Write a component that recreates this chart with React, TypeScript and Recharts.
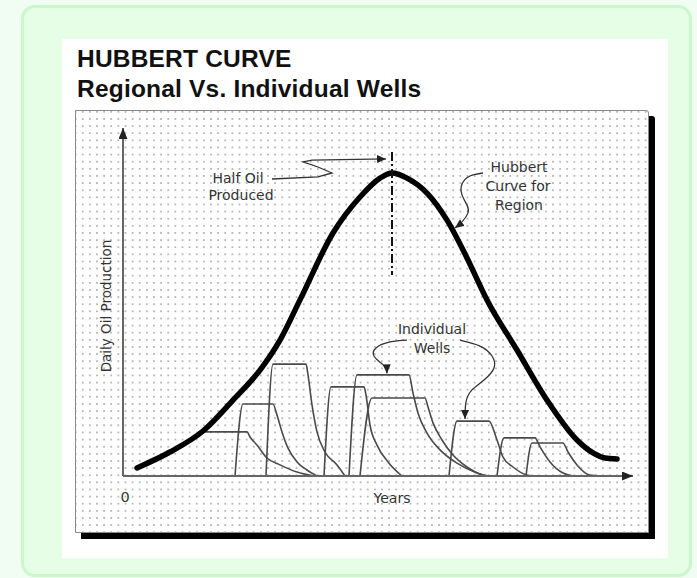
import React from 'react';
import { LineChart, Line, XAxis, YAxis, ReferenceLine } from 'recharts';

type Pt = { x: number; y: number };
const pts = (a: number[][]): Pt[] => a.map(([x, y]) => ({ x, y }));

// Regional Hubbert curve (years, daily production – arbitrary units)
const hubbertCurve = pts([
  [2.8, 2.7], [9.4, 8], [16, 15], [22, 25.3], [27.4, 35.3], [31.4, 45.3], [35.4, 58.7],
  [42, 81], [47.4, 93], [51.4, 99.3], [53.8, 101], [56.8, 99.3], [60.8, 94.3], [64.8, 85.3],
  [68.8, 72.7], [72.8, 58.7], [78.8, 42], [84.8, 25.3], [90.8, 12], [94, 7.7], [96.4, 6], [98.8, 5.7],
]);

// Individual wells
const well1 = pts([[15.2, 14.7], [24.8, 14.7], [25.4, 13], [26.8, 10.3], [28.8, 6], [31.4, 3.7], [34.8, 1.3], [38, 0]]);
const well2 = pts([[22.4, 0], [24, 24], [30, 24], [30.8, 20.3], [31.8, 14.7], [33, 9.3], [34.8, 4.7], [36.8, 2], [38.8, 0]]);
const well3 = pts([[28.6, 0], [30, 37.3], [36.6, 37.3], [37, 33.7], [37.8, 23.7], [38.8, 14.7], [40.4, 8], [42.8, 3.7], [44.4, 0]]);
const well4 = pts([[40.2, 0], [41.6, 29.7], [48.2, 29.7], [48.6, 27], [49.4, 17], [50.8, 10.3], [53, 4.7], [55.8, 0]]);
const well5 = pts([[45.2, 0], [46.8, 33.7], [57.2, 33.7], [58, 27.7], [59, 21], [60.8, 14.3], [63.4, 8.7], [66.8, 4.3], [70.8, 1], [72.8, 0]]);
const well6 = pts([[47.4, 0], [49.8, 26], [60.4, 26], [61, 23], [62, 17.7], [63.8, 12], [66, 7], [68.8, 3], [72, 0.3], [73.4, 0]]);
const well7 = pts([[65.2, 0], [66.8, 18.3], [73.2, 18.3], [74.8, 12], [76, 6.3], [78, 3], [80.8, 0.3], [81.8, 0]]);
const well8 = pts([[74.8, 0], [76.2, 12.7], [82.4, 12.7], [83.4, 9.7], [85.4, 4.7], [88, 1], [90, 0]]);
const well9 = pts([[80.6, 0], [81.8, 11], [88, 11], [89, 8], [90.8, 3.7], [93.4, 0.3], [95.8, 0]]);
const wells = [well1, well2, well3, well4, well5, well6, well7, well8, well9];

// Annotation leaders
const halfOilLeader = pts([[29.8, 99], [39, 99.7], [41.8, 101], [39, 103], [36, 104.7], [37.8, 105.3], [52.6, 105.7]]);
const hubbertLeader = pts([[72, 101], [69.4, 100], [67.8, 97.3], [67.8, 93.7], [68.8, 90.3], [69, 87.7], [67.8, 84.7], [66.4, 82.7]]);
const wellsLeaderLeft = pts([[56.8, 45.3], [53.4, 44.7], [50.6, 42.7], [50.2, 40], [51.6, 37.7], [52.6, 36], [52.8, 34.2]]);
const wellsLeaderRight = pts([[67.4, 45.3], [71.4, 43.3], [73.8, 40], [74.2, 36], [72.2, 32], [69.8, 28.7], [68.6, 24.7], [68.4, 19]]);
const peakMarker = pts([[53.8, 108], [53.8, 67]]);

const xDomain: [number, number] = [0, 102];
const yDomain: [number, number] = [0, 116];
const xTicks = [0];

const FONT = '"DejaVu Sans", Verdana, sans-serif';

const Note = ({ x, y, children, size = 14, rotate = 0 }: { x: number; y: number; children: React.ReactNode; size?: number; rotate?: number }) => (
  <div
    style={{
      position: 'absolute', left: x, top: y,
      transform: `translate(-50%,-50%) rotate(${rotate}deg)`,
      fontFamily: FONT, fontSize: size, lineHeight: 1, color: '#333', whiteSpace: 'nowrap',
    }}
  >
    {children}
  </div>
);

export default function App() {
  return (
    <div style={{ position: 'absolute', left: 0, top: 0, width: 697, height: 578, background: '#f1fcf3', overflow: 'hidden' }}>
      <svg width={0} height={0} style={{ position: 'absolute' }}>
        <defs>
          <marker id="axisArrow" viewBox="0 0 11 9" refX={11} refY={4.5} markerWidth={11} markerHeight={9} markerUnits="userSpaceOnUse" orient="auto-start-reverse">
            <path d="M0,0 L11,4.5 L0,9 Z" fill="#222" />
          </marker>
          <marker id="leadArrow" viewBox="0 0 9 8" refX={9} refY={4} markerWidth={9} markerHeight={8} markerUnits="userSpaceOnUse" orient="auto">
            <path d="M0,0 L9,4 L0,8 Z" fill="#222" />
          </marker>
        </defs>
      </svg>
      <div style={{ position: 'absolute', left: 21, top: 5, width: 665, height: 566, border: '3px solid #c9f8c9', borderRadius: 14, background: '#e6fde6' }} />
      <div style={{ position: 'absolute', left: 62, top: 39, width: 606, height: 519, background: '#ffffff' }} />
      <div style={{ position: 'absolute', left: 77, top: 44, fontFamily: '"Liberation Sans", Arial, sans-serif', fontWeight: 'bold', fontSize: 24.5, letterSpacing: 0.2, lineHeight: '30px', color: '#111', whiteSpace: 'nowrap' }}>
        <div>HUBBERT CURVE</div>
        <div>Regional Vs. Individual Wells</div>
      </div>
      <div
        style={{
          position: 'absolute', left: 75, top: 110, width: 572, height: 421,
          border: '1px solid #8a8a8a', borderRadius: '0 3px 0 0', boxShadow: '6px 6px 0 #000',
          backgroundColor: '#fff',
          backgroundImage: 'radial-gradient(circle, #b0b0b0 0.6px, rgba(255,255,255,0) 1.05px)',
          backgroundSize: '7.14px 7.14px', backgroundPosition: '10.3px 4.4px',
        }}
      />
      <div style={{ position: 'absolute', left: 0, top: 0 }}>
        <LineChart width={697} height={578} margin={{ top: 128, right: 64, bottom: 101, left: 122 }}>
          <XAxis
            type="number" dataKey="x" domain={xDomain} allowDataOverflow height={1} ticks={xTicks}
            tickLine={false} tickSize={6} tickMargin={10}
            tick={{ fill: '#333', fontSize: 14.5, fontFamily: FONT, dx: 2 }}
            axisLine={{ stroke: '#666', strokeWidth: 2, markerEnd: 'url(#axisArrow)' } as any}
          />
          <YAxis
            type="number" dataKey="y" domain={yDomain} allowDataOverflow width={1} tick={false} tickLine={false}
            axisLine={{ stroke: '#666', strokeWidth: 2, markerStart: 'url(#axisArrow)' } as any}
          />
          {wells.map((w, i) => (
            <Line key={i} data={w} dataKey="y" type="monotone" stroke="#4a4a4a" strokeWidth={1.6} dot={false} activeDot={false} isAnimationActive={false} />
          ))}
          <Line data={hubbertCurve} dataKey="y" type="monotone" stroke="#000" strokeWidth={5.5} strokeLinecap="round" dot={false} activeDot={false} isAnimationActive={false} />
          <ReferenceLine segment={peakMarker} stroke="#111" strokeWidth={2} strokeDasharray="9 3 2 3" ifOverflow="visible" />
          <Line data={halfOilLeader} dataKey="y" type="linear" stroke="#333" strokeWidth={1.3} dot={false} activeDot={false} isAnimationActive={false} {...({ markerEnd: 'url(#leadArrow)' } as any)} />
          <Line data={hubbertLeader} dataKey="y" type="natural" stroke="#333" strokeWidth={1.3} dot={false} activeDot={false} isAnimationActive={false} {...({ markerEnd: 'url(#leadArrow)' } as any)} />
          <Line data={wellsLeaderLeft} dataKey="y" type="natural" stroke="#333" strokeWidth={1.3} dot={false} activeDot={false} isAnimationActive={false} {...({ markerEnd: 'url(#leadArrow)' } as any)} />
          <Line data={wellsLeaderRight} dataKey="y" type="natural" stroke="#333" strokeWidth={1.3} dot={false} activeDot={false} isAnimationActive={false} {...({ markerEnd: 'url(#leadArrow)' } as any)} />
        </LineChart>
      </div>
      <Note x={238} y={178}>Half Oil</Note>
      <Note x={241} y={195}>Produced</Note>
      <Note x={519} y={167}>Hubbert</Note>
      <Note x={518} y={186}>Curve for</Note>
      <Note x={519} y={205}>Region</Note>
      <Note x={432} y={329}>Individual</Note>
      <Note x={432} y={348}>Wells</Note>
      <Note x={392} y={498}>Years</Note>
      <Note x={107} y={306} size={13.5} rotate={-90}>Daily Oil Production</Note>
    </div>
  );
}
